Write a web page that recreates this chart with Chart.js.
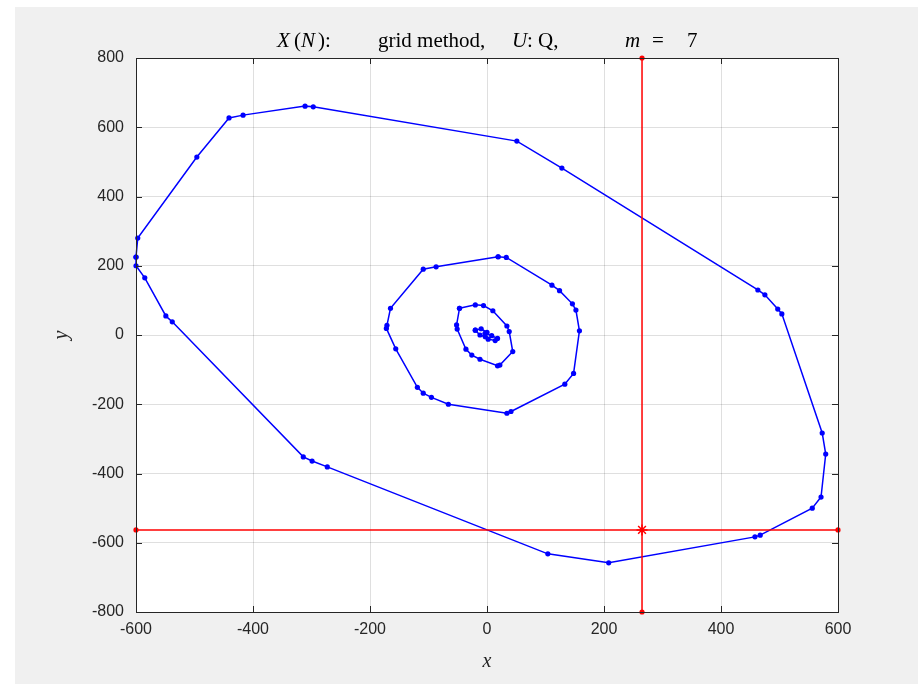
<!DOCTYPE html>
<html>
<head>
<meta charset="utf-8">
<script src="https://cdn.jsdelivr.net/npm/chart.js@4/dist/chart.umd.min.js"></script>
<style>
  html, body { margin: 0; padding: 0; background: #fff; }
  canvas { display: block; }
</style>
</head>
<body>
<canvas id="chart" width="918" height="684"></canvas>
<script>
// outer closed curve
const outerX = [-600, -597, -496, -441, -417, -311, -297, 51, 128, 463, 475, 497, 504, 573, 579, 571, 556, 467, 458, 208, 104, -273, -299, -314, -538, -549, -585, -600, -600];
const outerY = [225, 280, 514, 627, 635, 661, 659, 560, 482, 130, 116, 75, 61, -283, -344, -468, -500, -578, -583, -658, -632, -381, -364, -352, 38, 55, 165, 200, 225];

// middle closed curve
const middleX = [19, 33, 111, 124, 146, 152, 158, 148, 133, 41, 34, -66, -95, -109, -119, -156, -172, -171, -165, -109, -87, 19];
const middleY = [226, 224, 144, 128, 90, 72, 12, -111, -142, -221, -226, -200, -180, -168, -151, -40, 19, 28, 77, 190, 197, 226];

// inner closed curve
const innerX = [-47, -20, -6, 10, 34, 38, 44, 22, 18, -12, -26, -36, -51, -52, -47];
const innerY = [77, 87, 85, 70, 26, 10, -48, -87, -89, -70, -58, -41, 17, 29, 77];

// two tiny loops at the centre
const coreAX = [-20, -10, 0, -3, -12, -20];
const coreAY = [14, 18, 8, -5, 0, 14];
const coreBX = [-3, 8, 18, 14, 2, -3];
const coreBY = [5, -2, -10, -16, -12, 5];

// red cross-hair
const crossX = 265;
const crossY = -563;

const xTicks = [-600, -400, -200, 0, 200, 400, 600];
const yTicks = [-800, -600, -400, -200, 0, 200, 400, 600, 800];

const toPoints = (xs, ys) => xs.map((x, i) => ({ x: x, y: ys[i] }));

const BLUE = "#0000ff";
const RED = "#ff0000";
const AXIS = "#262626";

const blueSet = (xs, ys) => ({
  data: toPoints(xs, ys),
  showLine: true,
  borderColor: BLUE,
  backgroundColor: BLUE,
  borderWidth: 1.5,
  pointRadius: 2.6,
  pointBorderWidth: 0,
  clip: false,
});

// figure background, box, inward ticks, title and axis labels
const matlabLook = {
  id: "matlabLook",
  beforeDraw(chart) {
    const { ctx, chartArea: a } = chart;
    ctx.save();
    ctx.fillStyle = "#f0f0f0";
    ctx.fillRect(15, 7, chart.width - 15, chart.height - 7);
    ctx.fillStyle = "#ffffff";
    ctx.fillRect(a.left, a.top, a.right - a.left, a.bottom - a.top);
    ctx.restore();
  },
  afterDatasetsDraw(chart) {
    const { ctx, chartArea: a, scales } = chart;
    ctx.save();
    ctx.strokeStyle = AXIS;
    ctx.lineWidth = 1;
    ctx.beginPath();
    xTicks.forEach((v) => {
      const px = Math.round(scales.x.getPixelForValue(v)) + 0.5;
      ctx.moveTo(px, a.bottom); ctx.lineTo(px, a.bottom - 6);
      ctx.moveTo(px, a.top); ctx.lineTo(px, a.top + 6);
    });
    yTicks.forEach((v) => {
      const py = Math.round(scales.y.getPixelForValue(v)) + 0.5;
      ctx.moveTo(a.left, py); ctx.lineTo(a.left + 6, py);
      ctx.moveTo(a.right, py); ctx.lineTo(a.right - 6, py);
    });
    ctx.stroke();
    ctx.strokeRect(Math.round(a.left) + 0.5, Math.round(a.top) + 0.5,
      Math.round(a.right - a.left), Math.round(a.bottom - a.top));

    // title pieces: [text, italic, offset from plot centre]
    const cx = (a.left + a.right) / 2;
    const pieces = [
      ["X", true, -210], ["(", false, -193], ["N", true, -186], ["):", false, -169],
      ["grid method,", false, -109],
      ["U", true, 25], [": Q,", false, 40],
      ["m", true, 138], ["=", false, 165], ["7", false, 200],
    ];
    ctx.fillStyle = "#000";
    ctx.textBaseline = "alphabetic";
    ctx.textAlign = "left";
    pieces.forEach(([t, it, off]) => {
      ctx.font = (it ? "italic " : "") + "21px 'Liberation Serif', 'DejaVu Serif', serif";
      ctx.fillText(t, cx + off, 47);
    });

    // axis labels
    ctx.fillStyle = AXIS;
    ctx.font = "italic 20px 'Liberation Serif', 'DejaVu Serif', serif";
    ctx.textAlign = "center";
    ctx.textBaseline = "middle";
    ctx.fillText("x", cx, 662);
    ctx.translate(62, (a.top + a.bottom) / 2);
    ctx.rotate(-Math.PI / 2);
    ctx.fillText("y", 0, 0);
    ctx.restore();
  },
};

new Chart(document.getElementById("chart"), {
  type: "scatter",
  data: {
    datasets: [
      {
        // horizontal red line with end dots
        data: [{ x: -600, y: crossY }, { x: 600, y: crossY }],
        showLine: true,
        borderColor: RED,
        backgroundColor: RED,
        borderWidth: 1.5,
        pointRadius: 2.6,
        pointBorderWidth: 0,
        clip: false,
      },
      {
        // vertical red line with end dots
        data: [{ x: crossX, y: 800 }, { x: crossX, y: -800 }],
        showLine: true,
        borderColor: RED,
        backgroundColor: RED,
        borderWidth: 1.5,
        pointRadius: 2.6,
        pointBorderWidth: 0,
        clip: false,
      },
      {
        data: [{ x: crossX, y: crossY }],
        pointStyle: "star",
        pointRadius: 5.5,
        borderColor: RED,
        borderWidth: 1.5,
        clip: false,
      },
      blueSet(outerX, outerY),
      blueSet(middleX, middleY),
      blueSet(innerX, innerY),
      blueSet(coreAX, coreAY),
      blueSet(coreBX, coreBY),
    ],
  },
  options: {
    responsive: false,
    animation: false,
    layout: { padding: { left: 0, right: 80, top: 58, bottom: 0 } },
    plugins: {
      legend: { display: false },
      title: { display: false },
      tooltip: { enabled: false },
    },
    scales: {
      x: {
        type: "linear",
        min: -600,
        max: 600,
        afterBuildTicks: (s) => { s.ticks = xTicks.map((v) => ({ value: v })); },
        afterFit: (s) => { s.height = 72; },
        ticks: {
          color: AXIS,
          font: { family: "'Liberation Sans', Arial, sans-serif", size: 16 },
          padding: 8,
          maxRotation: 0,
        },
        grid: { color: "rgba(38,38,38,0.15)", drawTicks: false },
        border: { display: false },
      },
      y: {
        type: "linear",
        min: -800,
        max: 800,
        afterBuildTicks: (s) => { s.ticks = yTicks.map((v) => ({ value: v })); },
        afterFit: (s) => { s.width = 136; },
        ticks: {
          color: AXIS,
          font: { family: "'Liberation Sans', Arial, sans-serif", size: 16 },
          padding: 12,
        },
        grid: { color: "rgba(38,38,38,0.15)", drawTicks: false },
        border: { display: false },
      },
    },
  },
  plugins: [matlabLook],
});
</script>
</body>
</html>
